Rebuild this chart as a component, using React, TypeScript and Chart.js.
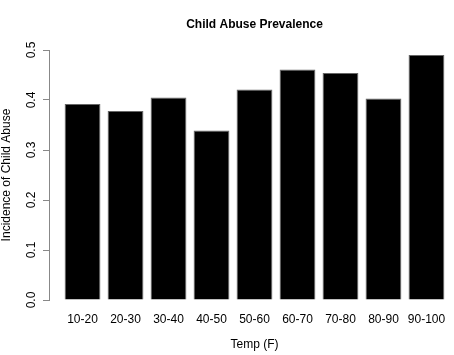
import React, { useEffect, useRef } from "react";
import { Chart, registerables } from "chart.js";

Chart.register(...registerables);

const categories = ["10-20", "20-30", "30-40", "40-50", "50-60", "60-70", "70-80", "80-90", "90-100"];
const incidence = [0.392, 0.378, 0.405, 0.339, 0.421, 0.461, 0.454, 0.403, 0.49];
const yTicks = [0, 0.1, 0.2, 0.3, 0.4, 0.5];
const chartTitle = "Child Abuse Prevalence";
const xTitle = "Temp (F)";
const yTitle = "Incidence of Child Abuse";

export default function App() {
  const ref = useRef<HTMLCanvasElement>(null);
  useEffect(() => {
    const family = "'Liberation Sans', Arial, Helvetica, sans-serif";
    const chart = new Chart(ref.current as HTMLCanvasElement, {
      type: "bar",
      data: {
        datasets: [
          {
            data: incidence.map((v, i) => ({ x: i, y: v })),
            backgroundColor: "#000",
            borderColor: "#666",
            borderWidth: 1,
            categoryPercentage: 1,
            barPercentage: 1 / 1.2,
          } as any,
        ],
      },
      options: {
        responsive: false,
        animation: false,
        devicePixelRatio: 1,
        layout: { padding: 0 },
        plugins: {
          legend: { display: false },
          tooltip: { enabled: false },
          title: {
            display: true,
            fullSize: false,
            text: chartTitle,
            color: "#000",
            font: { family, size: 12, weight: "bold", lineHeight: 1.2 },
            padding: { top: 17.8, bottom: 17.8 },
          },
        },
        scales: {
          x: {
            type: "linear",
            offset: false,
            min: -0.78,
            max: 8.78,
            afterBuildTicks: (s: any) => {
              s.ticks = categories.map((_, i) => ({ value: i }));
            },
            afterFit: (s: any) => {
              s.height = 55;
            },
            grid: { display: false, drawTicks: false, offset: false },
            border: { display: false },
            ticks: {
              autoSkip: false,
              maxRotation: 0,
              callback: (_v: any, i: number) => categories[i] ?? "",
              color: "#000",
              font: { family, size: 12 },
              padding: 12,
            },
            title: {
              display: true,
              text: xTitle,
              color: "#000",
              font: { family, size: 12 },
              padding: { top: 11.4, bottom: 2.8 },
            },
          },
          y: {
            min: 0,
            max: 0.5,
            afterBuildTicks: (s: any) => {
              s.ticks = yTicks.map((v) => ({ value: v }));
            },
            afterFit: (s: any) => {
              s.width = 49;
            },
            grid: { display: true, drawOnChartArea: false, drawTicks: true, tickLength: 6, color: "#888" },
            border: { display: true, color: "#888" },
            ticks: {
              minRotation: 90,
              maxRotation: 90,
              crossAlign: "center",
              padding: 3,
              callback: (v: any) => Number(v).toFixed(1),
              color: "#000",
              font: { family, size: 12 },
            },
            title: {
              display: true,
              text: yTitle,
              color: "#000",
              font: { family, size: 12 },
              padding: { top: -1, bottom: 0 },
            },
          },
        },
      } as any,
    });
    return () => chart.destroy();
  }, []);
  return (
    <div
      style={{
        position: "absolute",
        left: 0,
        top: 0,
        width: 454,
        height: 355,
        overflow: "hidden",
        background: "#fff",
      }}
    >
      <canvas ref={ref} width={460} height={355} style={{ display: "block" }} />
    </div>
  );
}
